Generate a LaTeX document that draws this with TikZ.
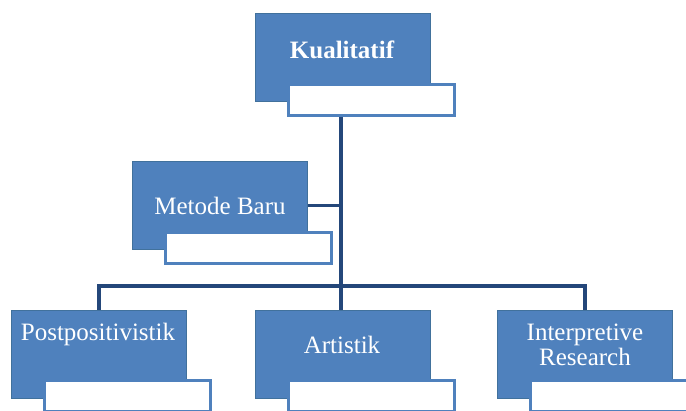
\documentclass[tikz,border=0pt]{standalone}
\usepackage{fontspec}
\setmainfont{Liberation Serif}
\definecolor{boxblue}{HTML}{4F81BD}
\definecolor{boxedge}{HTML}{41719C}
\definecolor{linkblue}{HTML}{24477A}
\begin{document}
\begin{tikzpicture}[x=1pt,y=-1pt,
  mainbox/.style={fill=boxblue, draw=boxedge, line width=0.8pt,
    minimum width=175pt, minimum height=88pt, inner sep=0pt, anchor=north west},
  tagbox/.style={fill=white, draw=boxblue, line width=3pt,
    minimum width=166pt, minimum height=31pt, inner sep=0pt, anchor=north west},
  boxtext/.style={text=white, font=\fontsize{25}{25}\selectfont, align=center, inner sep=0pt},
  link/.style={draw=linkblue, line width=3.5pt}]
\useasboundingbox (0,0) rectangle (686,411);
\clip (0,0) rectangle (686,411);

% top level
\node[mainbox] (kb) at (255,13) {};
\node[tagbox]  (kw) at (287,83) {};
\node[boxtext, font=\fontsize{25}{25}\selectfont\bfseries] (kt) at (342,50) {Kualitatif};

% side branch
\node[mainbox] (mb) at (132,161) {};
\node[tagbox]  (mw) at (164,231) {};
\node[boxtext] (mt) at (220,206) {Metode Baru};

% bottom row
\node[mainbox] (pb) at (11,310) {};
\node[tagbox]  (pw) at (43,379) {};
\node[boxtext] (pt) at (98,334) {Postpositivistik};

\node[mainbox] (ab) at (255,310) {};
\node[tagbox]  (aw) at (287,379) {};
\node[boxtext] (at) at (342,345) {Artistik};

\node[mainbox] (ib) at (497,310) {};
\node[tagbox]  (iw) at (529,379) {};
\node[boxtext] (it) at (585,345) {Interpretive\\Research};

% connectors
\coordinate (hub) at (341,286);
\draw[link] (kw.south -| hub) -- (hub |- ab.north);
\draw[link] (mb.east) -- (mb.east -| hub);
\draw[link] (pb.north) -- (pb.north |- hub) -- (ib.north |- hub) -- (ib.north);
\end{tikzpicture}
\end{document}
